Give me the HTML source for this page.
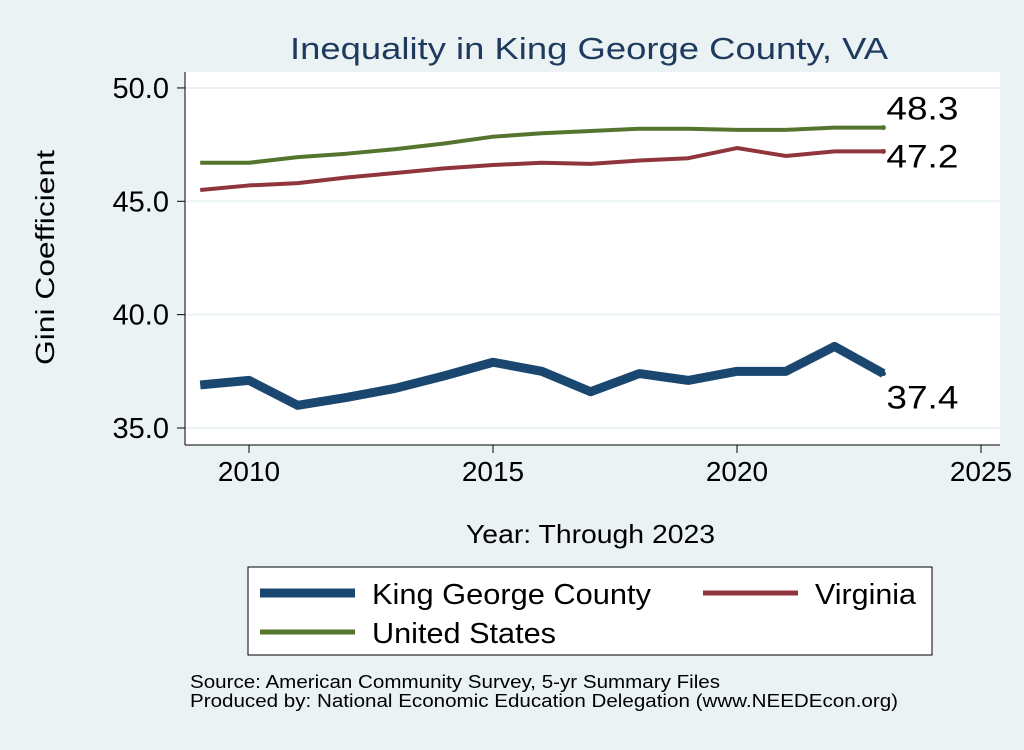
<!DOCTYPE html>
<html><head><meta charset="utf-8"><style>
body{margin:0;background:#eaf2f3;font-family:"Liberation Sans",sans-serif}
</style></head><body>
<svg width="1024" height="745" viewBox="0 0 1024 745" xmlns="http://www.w3.org/2000/svg" font-family="Liberation Sans, sans-serif">
<rect x="0" y="0" width="1024" height="745" fill="#eaf2f3"/>
<rect x="185" y="72" width="815" height="373" fill="#fff"/>
<text x="290" y="59" textLength="598" lengthAdjust="spacingAndGlyphs" font-size="31" fill="#1f3a5f">Inequality in King George County, VA</text>
<g id="grid"></g><g id="axes"></g><g id="series"></g>
<text x="54" y="365" transform="rotate(-90 54 365)" textLength="215" lengthAdjust="spacingAndGlyphs" font-size="26" fill="#000">Gini Coefficient</text>
<text x="466" y="543" textLength="249" lengthAdjust="spacingAndGlyphs" font-size="26" fill="#000">Year: Through 2023</text>
<g>
<rect x="248" y="567" width="684" height="88" fill="#fff" stroke="#000" stroke-width="1"/>
<line x1="260" y1="593" x2="355" y2="593" stroke="#1a476f" stroke-width="9"/>
<text x="372" y="604" textLength="279" lengthAdjust="spacingAndGlyphs" font-size="29">King George County</text>
<line x1="703" y1="593" x2="798" y2="593" stroke="#90353b" stroke-width="5"/>
<text x="815" y="604" textLength="101" lengthAdjust="spacingAndGlyphs" font-size="29">Virginia</text>
<line x1="260" y1="632" x2="355" y2="632" stroke="#55752f" stroke-width="5"/>
<text x="372" y="643" textLength="184" lengthAdjust="spacingAndGlyphs" font-size="29">United States</text>
</g>
<text x="190" y="688" textLength="530" lengthAdjust="spacingAndGlyphs" font-size="18">Source: American Community Survey, 5-yr Summary Files</text>
<text x="190" y="707" textLength="708" lengthAdjust="spacingAndGlyphs" font-size="18">Produced by: National Economic Education Delegation (www.NEEDEcon.org)</text>
</svg>
<script>
const years=[2009,2010,2011,2012,2013,2014,2015,2016,2017,2018,2019,2020,2021,2022,2023];
const kingGeorge=[36.9,37.1,36.0,36.35,36.75,37.3,37.9,37.5,36.6,37.4,37.1,37.5,37.5,38.6,37.4];
const virginia=[45.5,45.7,45.8,46.05,46.25,46.45,46.6,46.7,46.65,46.8,46.9,47.35,47.0,47.2,47.2];
const unitedStates=[46.7,46.7,46.95,47.1,47.3,47.55,47.85,48.0,48.1,48.2,48.2,48.15,48.15,48.25,48.25];
const yTicks=[35,40,45,50];
const xTicks=[2010,2015,2020,2025];
const NS="http://www.w3.org/2000/svg";
const xs=v=>249+(v-2010)*48.8;
const ys=v=>428-(v-35)*22.67;
function mk(tag,attrs,parent){const e=document.createElementNS(NS,tag);for(const k in attrs)e.setAttribute(k,attrs[k]);document.getElementById(parent).appendChild(e);return e;}
const grid="grid",axes="axes",ser="series";
mk('line',{x1:185,y1:72,x2:185,y2:445,stroke:'#000'},axes);
mk('line',{x1:185,y1:445,x2:1000,y2:445,stroke:'#000'},axes);
yTicks.forEach(t=>{
 const g=mk('line',{x1:185,x2:1000,y1:ys(t),y2:ys(t),stroke:'#eaf2f3','stroke-width':2},grid);
 
 mk('line',{x1:177,x2:185,y1:ys(t),y2:ys(t),stroke:'#000'},axes);
 const l=mk('text',{x:169,y:ys(t)+10,'text-anchor':'end','font-size':29},axes);l.textContent=t.toFixed(1);
 
});
xTicks.forEach(t=>{
 mk('line',{x1:xs(t),x2:xs(t),y1:445,y2:453,stroke:'#000'},axes);
 const l=mk('text',{x:xs(t),y:481,'text-anchor':'middle','font-size':28},axes);l.textContent=t;
 
});
function line(vals,color,w,name){
 const p=mk('polyline',{points:vals.map((v,i)=>xs(years[i])+','+ys(v)).join(' '),fill:'none',stroke:color,'stroke-width':w,'stroke-linejoin':'round'},ser);
 
 const last=vals[vals.length-1];
 mk('circle',{cx:xs(years[years.length-1]),cy:ys(last),r:2.5,fill:color},ser);
 return last;
}
const lu=line(unitedStates,'#55752f',4,'line-united-states');
const lv=line(virginia,'#90353b',4,'line-virginia');
const lk=line(kingGeorge,'#1a476f',9,'line-king-george');
const xl=xs(2023)+3;
[[lu,-8,'label-us'],[lv,16,'label-virginia'],[lk,35,'label-king-george']].forEach(a=>{
 const t=mk('text',{x:xl,y:ys(a[0])+a[1],textLength:72,lengthAdjust:'spacingAndGlyphs','font-size':32},ser);t.textContent=a[0].toFixed(1);
 
});
</script>
</body></html>
